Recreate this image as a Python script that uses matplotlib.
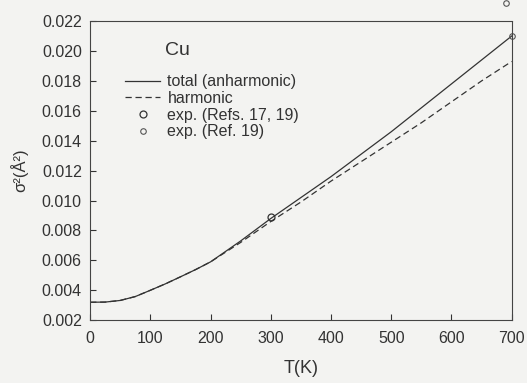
import numpy as np
import matplotlib
matplotlib.use('Agg')
import matplotlib.pyplot as plt

plt.rcParams['font.family'] = ['Liberation Sans', 'DejaVu Sans']

# temperatures (K)
T = [0, 25, 50, 75, 100, 125, 150, 175, 200, 250, 300, 350, 400, 450, 500, 550, 600, 650, 700]
# mean square displacement (A^2)
total = [0.0032, 0.00321, 0.00332, 0.00358, 0.0040, 0.00443, 0.0049, 0.00538, 0.0059, 0.0073, 0.0088,
         0.0102, 0.0116, 0.0131, 0.0146, 0.0162, 0.0178, 0.0194, 0.0210]
harmonic = [0.0032, 0.00321, 0.00332, 0.00358, 0.0040, 0.00443, 0.0049, 0.00538, 0.0059, 0.0072, 0.0086,
            0.0099, 0.0113, 0.0126, 0.0139, 0.0152, 0.0166, 0.0180, 0.0193]

exp1_T = [300]
exp1_s = [0.0089]
exp2_T = [700, 690]
exp2_s = [0.0210, 0.0232]

ink = '#333333'
fig = plt.figure(figsize=(5.27, 3.83), dpi=100, facecolor='#f3f3f1')
ax = fig.add_axes([0.171, 0.164, 0.8, 0.781])
ax.set_facecolor('#f3f3f1')

ax.plot(T, total, color=ink, lw=0.9, label='total (anharmonic)')
ax.plot(T, harmonic, color=ink, lw=0.9, ls=(0, (5, 3)), label='harmonic')
ax.plot(exp1_T, exp1_s, 'o', ms=5, mfc='none', mec=ink, mew=0.9, label='exp. (Refs. 17, 19)')
ax.plot(exp2_T, exp2_s, 'o', ms=4, mfc='none', mec='#555555', mew=0.8, clip_on=False,
        label='exp. (Ref. 19)')

ax.set_xlim(0, 700)
ax.set_ylim(0.002, 0.022)
ax.set_xticks(np.arange(0, 701, 100))
ax.set_yticks(np.arange(0.002, 0.0221, 0.002))
ax.set_yticklabels(['%.3f' % v for v in np.arange(0.002, 0.0221, 0.002)])
ax.tick_params(direction='in', length=4, width=0.8, colors=ink, labelsize=11.5, pad=6)
ax.tick_params(axis='x', pad=8)
for s in ax.spines.values():
    s.set_color('#444444')
    s.set_linewidth(0.8)
    s.set_linestyle((0, (6, 1, 1, 1)))

ax.set_xlabel('T(K)', fontsize=13, color=ink, labelpad=10)
ax.set_ylabel('σ²(Å²)', fontsize=12, color=ink, labelpad=10)

ax.text(0.178, 0.903, 'Cu', transform=ax.transAxes, fontsize=14, color=ink, va='center')
leg = ax.legend(loc='upper left', bbox_to_anchor=(0.083, 0.822), frameon=False, fontsize=11.5,
                borderaxespad=0, borderpad=0, handlelength=2.2, handletextpad=0.45,
                labelspacing=0.1, labelcolor=ink)

fig.savefig('out.png', dpi=100, facecolor=fig.get_facecolor())
